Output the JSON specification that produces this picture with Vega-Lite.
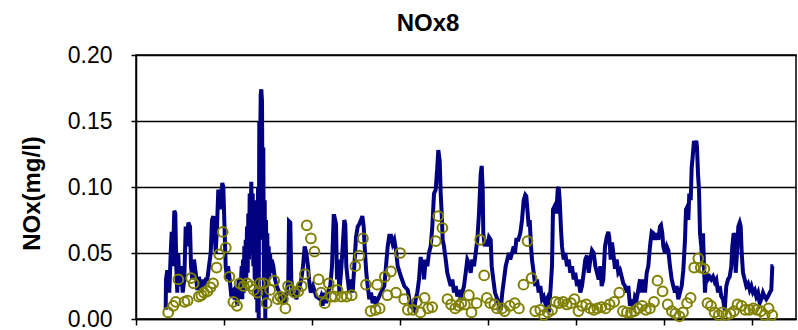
{
"$schema": "https://vega.github.io/schema/vega-lite/v6.json",
"width": 660, "height": 264,
"autosize": "none",
"padding": {"left": 136, "top": 55, "right": 2, "bottom": 11},
"background": "white",
"title": {"text": "NOx8", "font": "Liberation Sans", "fontSize": 24, "fontWeight": "bold", "color": "black", "anchor": "middle", "dx": -38, "dy": 26, "offset": 15, "baseline": "alphabetic"},
"config": {"view": {"stroke": "black", "strokeWidth": 1.5}},
"datasets": {
"line": [
{"x":29.7,"y":0.007},{"x":30.0,"y":0.030},{"x":31.3,"y":0.037},{"x":32.3,"y":0.030},{"x":33.3,"y":0.020},{"x":34.7,"y":0.050},{"x":35.7,"y":0.066},{"x":36.7,"y":0.040},{"x":38.3,"y":0.082},{"x":39.3,"y":0.080},{"x":40.3,"y":0.040},{"x":41.3,"y":0.020},{"x":42.3,"y":0.050},{"x":43.3,"y":0.025},{"x":45.0,"y":0.040},{"x":46.7,"y":0.020},{"x":48.3,"y":0.030},{"x":49.7,"y":0.070},{"x":51.0,"y":0.055},{"x":52.3,"y":0.073},{"x":54.0,"y":0.070},{"x":55.0,"y":0.040},{"x":56.3,"y":0.030},{"x":58.0,"y":0.045},{"x":59.7,"y":0.035},{"x":61.3,"y":0.022},{"x":63.0,"y":0.032},{"x":64.7,"y":0.020},{"x":66.3,"y":0.030},{"x":68.0,"y":0.025},{"x":69.7,"y":0.030},{"x":71.3,"y":0.030},{"x":73.0,"y":0.040},{"x":74.7,"y":0.050},{"x":76.0,"y":0.075},{"x":77.3,"y":0.078},{"x":78.7,"y":0.065},{"x":79.7,"y":0.050},{"x":81.0,"y":0.070},{"x":82.3,"y":0.098},{"x":84.0,"y":0.083},{"x":85.0,"y":0.093},{"x":86.3,"y":0.103},{"x":87.3,"y":0.100},{"x":88.3,"y":0.075},{"x":89.7,"y":0.040},{"x":91.0,"y":0.030},
{"x":92.0,"y":0.040},{"x":93.7,"y":0.030},{"x":95.3,"y":0.017},{"x":97.0,"y":0.020},{"x":98.7,"y":0.015},{"x":100.0,"y":0.025},{"x":101.3,"y":0.010},{"x":102.7,"y":0.030},{"x":104.0,"y":0.015},
{"x":105.7,"y":0.040},{"x":106.3,"y":0.015},{"x":107.0,"y":0.045},{"x":107.7,"y":0.020},{"x":108.3,"y":0.055},{"x":109.0,"y":0.025},{"x":109.7,"y":0.060},{"x":110.3,"y":0.030},{"x":111.0,"y":0.070},{"x":111.7,"y":0.035},{"x":112.3,"y":0.080},{"x":113.0,"y":0.045},{"x":113.7,"y":0.095},{"x":114.3,"y":0.050},{"x":115.3,"y":0.104},{"x":116.0,"y":0.060},{"x":116.7,"y":0.095},{"x":117.3,"y":0.040},{"x":118.0,"y":0.090},{"x":118.7,"y":0.030},{"x":119.3,"y":0.088},{"x":120.0,"y":0.015},{"x":120.7,"y":0.085},{"x":121.3,"y":0.005},{"x":122.0,"y":0.100},{"x":122.7,"y":0.000},{"x":123.3,"y":0.150},{"x":124.0,"y":0.120},{"x":124.7,"y":0.170},{"x":125.3,"y":0.174},{"x":126.0,"y":0.165},{"x":126.7,"y":0.060},{"x":127.3,"y":0.130},{"x":128.0,"y":0.010},{"x":128.7,"y":0.090},{"x":129.3,"y":0.000},{"x":130.0,"y":0.075},{"x":130.7,"y":0.015},{"x":131.3,"y":0.065},{"x":132.0,"y":0.025},{"x":132.7,"y":0.055},{"x":133.3,"y":0.030},{"x":134.0,"y":0.050},{"x":135.0,"y":0.035},
{"x":135.7,"y":0.045},{"x":137.3,"y":0.040},{"x":139.0,"y":0.030},{"x":140.7,"y":0.025},{"x":143.3,"y":0.020},{"x":145.7,"y":0.015},{"x":147.3,"y":0.017},{"x":149.0,"y":0.012},{"x":150.7,"y":0.020},{"x":152.3,"y":0.030},{"x":153.0,"y":0.074},{"x":154.3,"y":0.073},{"x":155.3,"y":0.030},{"x":157.0,"y":0.017},{"x":158.7,"y":0.022},{"x":160.3,"y":0.015},{"x":162.0,"y":0.020},{"x":163.7,"y":0.025},{"x":165.3,"y":0.030},{"x":167.0,"y":0.040},{"x":168.7,"y":0.055},{"x":170.3,"y":0.050},{"x":172.0,"y":0.040},{"x":173.0,"y":0.030},{"x":174.7,"y":0.020},{"x":177.0,"y":0.025},{"x":180.3,"y":0.017},{"x":184.0,"y":0.015},
{"x":185.0,"y":0.017},{"x":186.7,"y":0.010},{"x":188.0,"y":0.020},{"x":190.0,"y":0.012},{"x":191.7,"y":0.020},{"x":194.3,"y":0.025},{"x":196.0,"y":0.040},{"x":197.7,"y":0.078},{"x":198.3,"y":0.078},{"x":200.0,"y":0.072},{"x":201.0,"y":0.030},{"x":202.3,"y":0.045},{"x":203.3,"y":0.020},{"x":205.0,"y":0.035},{"x":206.7,"y":0.055},{"x":208.3,"y":0.075},{"x":209.3,"y":0.072},{"x":210.3,"y":0.040},{"x":211.7,"y":0.030},{"x":213.3,"y":0.020},{"x":215.0,"y":0.030},{"x":216.7,"y":0.020},{"x":218.3,"y":0.040},{"x":220.0,"y":0.062},{"x":221.7,"y":0.070},{"x":223.3,"y":0.072},{"x":225.0,"y":0.075},{"x":226.3,"y":0.078},{"x":227.7,"y":0.070},{"x":229.0,"y":0.050},{"x":230.3,"y":0.035},{"x":231.7,"y":0.025},{"x":233.3,"y":0.015},{"x":235.0,"y":0.020},{"x":236.7,"y":0.012},{"x":238.3,"y":0.017},{"x":240.0,"y":0.012},{"x":242.0,"y":0.015},{"x":245.0,"y":0.020},{"x":248.3,"y":0.025},{"x":250.0,"y":0.040},{"x":251.7,"y":0.055},{"x":253.3,"y":0.063},{"x":255.0,"y":0.063},{"x":256.7,"y":0.057},{"x":258.3,"y":0.060},{"x":260.0,"y":0.052},{"x":261.7,"y":0.040},{"x":265.0,"y":0.032},{"x":268.3,"y":0.025},{"x":271.7,"y":0.022},{"x":273.3,"y":0.015},{"x":275.0,"y":0.010},
{"x":278.0,"y":0.007},{"x":279.7,"y":0.015},{"x":281.3,"y":0.020},{"x":283.0,"y":0.030},{"x":284.7,"y":0.047},{"x":285.7,"y":0.040},{"x":287.0,"y":0.045},{"x":288.0,"y":0.030},{"x":289.7,"y":0.045},{"x":291.3,"y":0.040},{"x":293.0,"y":0.050},{"x":294.7,"y":0.055},{"x":296.3,"y":0.070},{"x":298.0,"y":0.095},{"x":299.7,"y":0.098},{"x":301.3,"y":0.115},{"x":302.3,"y":0.128},{"x":303.7,"y":0.120},{"x":304.7,"y":0.095},{"x":305.7,"y":0.080},{"x":306.7,"y":0.060},{"x":308.0,"y":0.055},{"x":309.7,"y":0.045},{"x":311.3,"y":0.035},{"x":313.0,"y":0.030},{"x":314.7,"y":0.025},{"x":316.3,"y":0.030},{"x":318.0,"y":0.020},{"x":319.7,"y":0.025},{"x":321.3,"y":0.017},{"x":323.0,"y":0.022},{"x":324.7,"y":0.015},{"x":326.3,"y":0.020},{"x":328.0,"y":0.025},{"x":329.7,"y":0.035},{"x":331.3,"y":0.045},{"x":333.0,"y":0.042},{"x":334.7,"y":0.035},{"x":336.3,"y":0.045},{"x":338.0,"y":0.040},{"x":339.7,"y":0.050},{"x":341.3,"y":0.060},{"x":343.0,"y":0.080},{"x":344.7,"y":0.110},{"x":345.7,"y":0.116},{"x":346.7,"y":0.098},{"x":347.3,"y":0.065},{"x":348.7,"y":0.055},{"x":350.0,"y":0.060},{"x":351.3,"y":0.055},{"x":353.0,"y":0.062},{"x":354.7,"y":0.060},{"x":355.7,"y":0.040},{"x":357.3,"y":0.030},{"x":359.0,"y":0.020},{"x":361.3,"y":0.015},{"x":363.0,"y":0.010},{"x":364.7,"y":0.007},{"x":366.3,"y":0.020},{"x":368.0,"y":0.030},{"x":369.7,"y":0.040},{"x":371.3,"y":0.045},{"x":373.0,"y":0.050},
{"x":374.3,"y":0.045},{"x":376.0,"y":0.050},{"x":377.7,"y":0.055},{"x":379.0,"y":0.050},{"x":380.3,"y":0.060},{"x":382.3,"y":0.060},{"x":384.3,"y":0.065},{"x":386.0,"y":0.075},{"x":387.7,"y":0.090},{"x":389.3,"y":0.094},{"x":390.3,"y":0.093},{"x":391.7,"y":0.080},{"x":392.7,"y":0.070},{"x":393.7,"y":0.075},{"x":395.0,"y":0.055},{"x":396.0,"y":0.045},{"x":397.7,"y":0.035},{"x":399.3,"y":0.025},{"x":401.0,"y":0.030},{"x":402.7,"y":0.020},{"x":404.3,"y":0.025},{"x":406.0,"y":0.015},{"x":407.7,"y":0.017},{"x":409.3,"y":0.012},{"x":411.0,"y":0.015},{"x":412.7,"y":0.005},{"x":414.3,"y":0.020},{"x":416.0,"y":0.040},{"x":417.0,"y":0.083},{"x":418.3,"y":0.085},{"x":420.3,"y":0.080},{"x":421.7,"y":0.098},{"x":422.7,"y":0.100},{"x":423.7,"y":0.090},{"x":425.0,"y":0.068},{"x":426.0,"y":0.055},{"x":427.7,"y":0.045},{"x":429.3,"y":0.050},{"x":431.0,"y":0.040},{"x":432.7,"y":0.045},{"x":434.3,"y":0.035},{"x":436.0,"y":0.040},{"x":437.7,"y":0.030},{"x":439.3,"y":0.035},{"x":441.0,"y":0.025},{"x":442.7,"y":0.030},{"x":444.3,"y":0.020},{"x":446.0,"y":0.025},{"x":447.7,"y":0.035},{"x":449.3,"y":0.045},{"x":451.0,"y":0.048},{"x":452.7,"y":0.035},{"x":454.3,"y":0.045},{"x":456.0,"y":0.052},{"x":457.7,"y":0.050},{"x":459.3,"y":0.040},{"x":461.0,"y":0.035},{"x":462.7,"y":0.030},{"x":464.3,"y":0.040},
{"x":465.7,"y":0.025},{"x":467.3,"y":0.030},{"x":469.0,"y":0.055},{"x":470.7,"y":0.062},{"x":472.3,"y":0.066},{"x":473.3,"y":0.062},{"x":474.7,"y":0.045},{"x":476.0,"y":0.058},{"x":477.3,"y":0.050},{"x":479.0,"y":0.038},{"x":480.7,"y":0.045},{"x":482.3,"y":0.035},{"x":484.0,"y":0.037},{"x":485.7,"y":0.032},{"x":487.3,"y":0.027},{"x":489.0,"y":0.025},{"x":490.7,"y":0.020},{"x":492.3,"y":0.025},{"x":494.0,"y":0.010},{"x":495.7,"y":0.015},{"x":497.3,"y":0.007},{"x":499.0,"y":0.017},{"x":500.7,"y":0.015},{"x":502.3,"y":0.022},{"x":504.0,"y":0.030},{"x":505.7,"y":0.020},{"x":507.3,"y":0.030},{"x":509.0,"y":0.020},{"x":510.7,"y":0.035},{"x":512.3,"y":0.040},{"x":514.0,"y":0.055},{"x":515.7,"y":0.066},{"x":517.3,"y":0.065},{"x":519.0,"y":0.060},{"x":520.7,"y":0.065},{"x":522.3,"y":0.060},{"x":524.0,"y":0.070},{"x":525.0,"y":0.071},{"x":526.3,"y":0.065},{"x":527.3,"y":0.055},{"x":529.0,"y":0.050},{"x":530.7,"y":0.055},{"x":532.3,"y":0.052},{"x":534.0,"y":0.040},{"x":535.7,"y":0.030},{"x":537.3,"y":0.025},{"x":539.0,"y":0.020},{"x":540.7,"y":0.025},{"x":542.3,"y":0.015},{"x":544.0,"y":0.020},{"x":545.7,"y":0.025},{"x":547.3,"y":0.037},{"x":549.0,"y":0.060},{"x":550.0,"y":0.083},{"x":551.3,"y":0.085},{"x":552.3,"y":0.075},{"x":553.3,"y":0.095},{"x":554.7,"y":0.090},{"x":555.7,"y":0.115},{"x":556.7,"y":0.123},{"x":558.0,"y":0.135},{"x":559.0,"y":0.131},
{"x":560.3,"y":0.135},{"x":561.0,"y":0.130},{"x":562.0,"y":0.110},{"x":563.0,"y":0.098},{"x":564.0,"y":0.065},{"x":565.3,"y":0.055},{"x":566.3,"y":0.040},{"x":567.0,"y":0.065},{"x":568.0,"y":0.040},{"x":569.0,"y":0.020},{"x":570.3,"y":0.035},{"x":572.0,"y":0.030},{"x":573.7,"y":0.032},{"x":575.3,"y":0.030},{"x":577.0,"y":0.032},{"x":578.7,"y":0.028},{"x":580.3,"y":0.030},{"x":582.0,"y":0.020},{"x":583.7,"y":0.025},{"x":585.3,"y":0.017},{"x":587.0,"y":0.015},{"x":588.7,"y":0.007},{"x":590.3,"y":0.025},{"x":592.0,"y":0.030},{"x":593.7,"y":0.032},{"x":595.3,"y":0.040},{"x":596.3,"y":0.055},{"x":597.7,"y":0.065},{"x":598.7,"y":0.063},{"x":599.7,"y":0.035},{"x":601.0,"y":0.050},{"x":602.3,"y":0.070},{"x":603.7,"y":0.073},{"x":604.7,"y":0.070},{"x":605.7,"y":0.050},{"x":607.0,"y":0.035},{"x":608.7,"y":0.030},{"x":610.3,"y":0.025},{"x":612.0,"y":0.027},{"x":613.7,"y":0.022},{"x":615.3,"y":0.025},{"x":617.0,"y":0.020},{"x":618.7,"y":0.022},{"x":620.3,"y":0.017},{"x":622.0,"y":0.020},{"x":623.7,"y":0.012},{"x":625.3,"y":0.015},{"x":627.0,"y":0.020},{"x":628.7,"y":0.017},{"x":630.3,"y":0.015},{"x":632.0,"y":0.017},{"x":633.7,"y":0.020},{"x":635.3,"y":0.022},{"x":636.3,"y":0.040},{"x":637.3,"y":0.040}
],
"pts": [
{"x":32.2,"y":0.005},{"x":37.3,"y":0.010},{"x":39.8,"y":0.013},{"x":42.4,"y":0.030},{"x":48.5,"y":0.013},{"x":51.6,"y":0.014},{"x":55.1,"y":0.031},{"x":57.7,"y":0.027},{"x":62.8,"y":0.017},{"x":65.3,"y":0.018},{"x":67.9,"y":0.020},{"x":71.4,"y":0.021},{"x":74.5,"y":0.024},{"x":77.1,"y":0.027},{"x":80.6,"y":0.039},{"x":83.2,"y":0.049},{"x":86.7,"y":0.066},{"x":89.8,"y":0.054},{"x":93.4,"y":0.032},{"x":97.4,"y":0.013},{"x":101.0,"y":0.010},{"x":103.6,"y":0.027},{"x":107.6,"y":0.025},{"x":111.2,"y":0.027},{"x":114.8,"y":0.025},{"x":117.8,"y":0.022},{"x":121.4,"y":0.020},{"x":123.9,"y":0.027},{"x":127.5,"y":0.027},{"x":130.6,"y":0.012},{"x":134.1,"y":0.022},{"x":138.2,"y":0.029},{"x":141.8,"y":0.015},{"x":144.3,"y":0.017},{"x":146.9,"y":0.015},{"x":149.4,"y":0.008},{"x":152.0,"y":0.025},{"x":154.5,"y":0.022},{"x":158.6,"y":0.020},{"x":162.2,"y":0.021},{"x":165.7,"y":0.025},{"x":168.8,"y":0.034},{"x":170.8,"y":0.071},{"x":174.9,"y":0.061},{"x":178.5,"y":0.051},{"x":182.6,"y":0.030},{"x":185.1,"y":0.020},{"x":188.7,"y":0.012},{"x":192.8,"y":0.027},{"x":195.3,"y":0.017},{"x":198.9,"y":0.017},{"x":201.4,"y":0.022},{"x":205.5,"y":0.017},{"x":210.6,"y":0.017},{"x":215.7,"y":0.018},{"x":219.3,"y":0.040},{"x":223.3,"y":0.048},{"x":226.9,"y":0.061},{"x":230.0,"y":0.026},{"x":234.6,"y":0.006},{"x":239.6,"y":0.007},{"x":241.2,"y":0.026},{"x":243.7,"y":0.008},{"x":248.8,"y":0.032},{"x":251.4,"y":0.018},{"x":254.9,"y":0.036},{"x":260.0,"y":0.020},{"x":264.1,"y":0.050},{"x":268.2,"y":0.015},{"x":271.8,"y":0.007},{"x":276.9,"y":0.007},{"x":280.9,"y":0.013},{"x":284.5,"y":0.005},{"x":288.6,"y":0.016},{"x":292.1,"y":0.008},{"x":296.2,"y":0.009},{"x":299.8,"y":0.059},{"x":302.3,"y":0.078},{"x":306.4,"y":0.069},{"x":311.5,"y":0.015},{"x":315.1,"y":0.011},{"x":319.2,"y":0.008},{"x":322.7,"y":0.010},{"x":325.3,"y":0.012},{"x":328.8,"y":0.011},{"x":332.9,"y":0.018},{"x":335.5,"y":0.005},{"x":340.6,"y":0.012},{"x":344.1,"y":0.060},{"x":348.2,"y":0.033},{"x":350.8,"y":0.016},{"x":354.3,"y":0.012},{"x":358.4,"y":0.011},{"x":361.0,"y":0.008},{"x":366.1,"y":0.008},{"x":368.6,"y":0.006},{"x":373.7,"y":0.010},{"x":378.8,"y":0.012},{"x":382.9,"y":0.008},{"x":387.5,"y":0.026},{"x":391.5,"y":0.059},{"x":395.6,"y":0.031},{"x":399.2,"y":0.006},{"x":404.3,"y":0.007},{"x":407.8,"y":0.003},{"x":411.9,"y":0.005},{"x":416.0,"y":0.007},{"x":419.6,"y":0.013},{"x":423.1,"y":0.012},{"x":427.2,"y":0.013},{"x":430.8,"y":0.011},{"x":434.9,"y":0.012},{"x":438.4,"y":0.015},{"x":442.5,"y":0.006},{"x":446.1,"y":0.010},{"x":450.2,"y":0.011},{"x":454.2,"y":0.008},{"x":457.8,"y":0.007},{"x":461.4,"y":0.008},{"x":465.4,"y":0.009},{"x":469.5,"y":0.008},{"x":473.6,"y":0.011},{"x":478.2,"y":0.013},{"x":483.3,"y":0.020},{"x":486.9,"y":0.006},{"x":490.9,"y":0.005},{"x":495.0,"y":0.005},{"x":498.6,"y":0.006},{"x":502.1,"y":0.008},{"x":506.2,"y":0.010},{"x":509.8,"y":0.007},{"x":513.9,"y":0.008},{"x":518.0,"y":0.013},{"x":521.5,"y":0.029},{"x":526.6,"y":0.021},{"x":531.7,"y":0.011},{"x":535.8,"y":0.006},{"x":539.4,"y":0.004},{"x":543.4,"y":0.002},{"x":547.0,"y":0.005},{"x":551.1,"y":0.012},{"x":554.6,"y":0.016},{"x":558.2,"y":0.039},{"x":562.3,"y":0.046},{"x":564.8,"y":0.039},{"x":568.4,"y":0.038},{"x":571.5,"y":0.012},{"x":575.0,"y":0.010},{"x":578.6,"y":0.005},{"x":582.7,"y":0.003},{"x":586.3,"y":0.005},{"x":590.3,"y":0.003},{"x":594.4,"y":0.004},{"x":598.0,"y":0.006},{"x":601.5,"y":0.011},{"x":605.6,"y":0.010},{"x":609.2,"y":0.007},{"x":613.3,"y":0.007},{"x":617.3,"y":0.008},{"x":620.9,"y":0.007},{"x":625.0,"y":0.006},{"x":628.6,"y":0.003},{"x":632.6,"y":0.008},{"x":636.2,"y":0.003}
]
},
"layer": [
{"data": {"name": "line"},
 "mark": {"type": "line", "color": "#000080", "strokeWidth": 4, "strokeJoin": "miter", "clip": true},
 "encoding": {
  "x": {"field": "x", "type": "quantitative", "scale": {"domain": [0, 660], "nice": false, "zero": false},
        "axis": {"values": [0,88,176,264,352,440,528,616], "labels": false, "title": null, "grid": false, "domainColor": "black", "domainWidth": 1.5, "tickColor": "black", "tickWidth": 1.5, "tickSize": 6}},
  "y": {"field": "y", "type": "quantitative", "scale": {"domain": [0, 0.2], "nice": false},
        "axis": {"values": [0,0.05,0.1,0.15,0.2], "format": ".2f", "grid": true, "gridColor": "black", "gridWidth": 1.5, "domainColor": "black", "domainWidth": 1.5, "tickColor": "black", "tickWidth": 1.5, "tickSize": 5,
                 "labelFont": "Liberation Sans", "labelFontSize": 23, "labelColor": "black", "labelPadding": 19,
                 "title": "NOx(mg/l)", "titleFont": "Liberation Sans", "titleFontSize": 24, "titleFontWeight": "bold", "titleColor": "black",
                 "titleX": -104, "titleY": 138, "titleAngle": 270, "titleAlign": "center", "titleBaseline": "middle"}}
 }},
{"data": {"name": "pts"},
 "mark": {"type": "point", "shape": "circle", "filled": false, "color": "#808000", "size": 95, "strokeWidth": 2, "opacity": 1},
 "encoding": {
  "x": {"field": "x", "type": "quantitative"},
  "y": {"field": "y", "type": "quantitative"}
 }}
]
}
